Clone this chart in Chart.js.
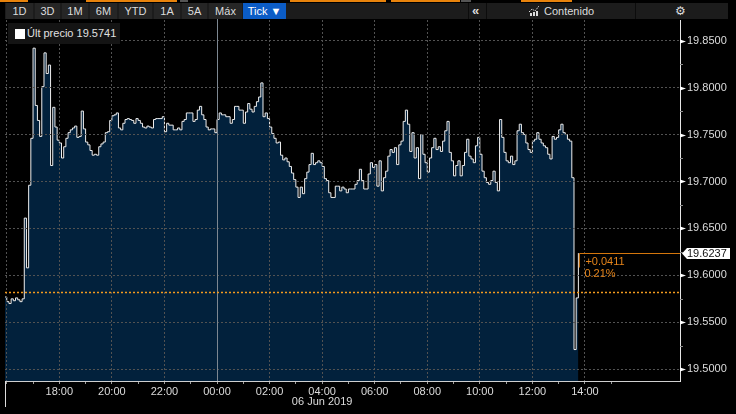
<!DOCTYPE html>
<html>
<head>
<meta charset="utf-8">
<script src="https://cdn.jsdelivr.net/npm/chart.js@4.4.0/dist/chart.umd.min.js"></script>
<style>
  html, body { margin: 0; padding: 0; background: #000; }
  #wrap { position: relative; width: 736px; height: 414px; overflow: hidden; font-family: "Liberation Sans", Arial, sans-serif; }
  canvas { position: absolute; left: 0; top: 0; }
  .strip { position: absolute; top: 0; height: 2px; background: #e8830c; }
  #bar { position: absolute; left: 5px; top: 3px; width: 723px; height: 16px; background: #1c1c1c; }
  .btn { position: absolute; top: 3px; height: 16px; line-height: 16px; background: #262626; color: #dcdcdc; font-size: 11px; text-align: center; }
  .btn.on { background: #0b5cc6; color: #fff; }
  .sep { position: absolute; top: 3px; width: 1px; height: 16px; background: #0c0c0c; }
  .tool { position: absolute; top: 3px; height: 16px; line-height: 16px; color: #dcdcdc; font-size: 11px; }
  #legend { position: absolute; left: 8px; top: 23px; width: 112px; height: 21px; background: #141414; }
  #legend .sq { position: absolute; left: 7px; top: 6px; width: 10px; height: 10px; background: #fff; }
  #legend .txt { position: absolute; left: 19px; top: 4px; color: #e0e0e0; font-size: 11px; white-space: nowrap; }
</style>
</head>
<body>
<div id="wrap">
  <canvas id="chart" width="736" height="414"></canvas>

  <div class="strip" style="left:0;width:28px"></div>
  <div class="strip" style="left:86px;width:91px"></div>
  <div class="strip" style="left:180px;width:8px;background:#555"></div>
  <div class="strip" style="left:290px;width:96px"></div>
  <div class="strip" style="left:391px;width:69px"></div>
  <div class="strip" style="left:461px;width:10px;background:#555"></div>
  <div class="strip" style="left:521px;width:51px"></div>

  <div id="bar"></div>
  <div class="btn" style="left:6px;width:27px">1D</div>
  <div class="btn" style="left:35px;width:25px">3D</div>
  <div class="btn" style="left:62px;width:26px">1M</div>
  <div class="btn" style="left:90px;width:27px">6M</div>
  <div class="btn" style="left:119px;width:33px">YTD</div>
  <div class="btn" style="left:154px;width:26px">1A</div>
  <div class="btn" style="left:182px;width:25px">5A</div>
  <div class="btn" style="left:209px;width:33px">Máx</div>
  <div class="btn on" style="left:243px;width:43px">Tick ▼</div>
  <div class="sep" style="left:468px"></div>
  <div class="sep" style="left:486px"></div>
  <div class="sep" style="left:635px"></div>
  <div class="tool" style="left:472px;font-size:13px;font-weight:bold">«</div>
  <svg style="position:absolute;left:529px;top:6px" width="10" height="10" viewBox="0 0 10 10">
    <polyline points="0,6 3,3 6,5 10,0" fill="none" stroke="#dcdcdc" stroke-width="1" stroke-dasharray="1.5,1"/>
    <rect x="1" y="7" width="2" height="3" fill="#dcdcdc"/>
    <rect x="4" y="6" width="2" height="4" fill="#dcdcdc"/>
    <rect x="7" y="5" width="2" height="5" fill="#dcdcdc"/>
  </svg>
  <div class="tool" style="left:544px">Contenido</div>
  <div class="tool" style="left:675px;font-family:'DejaVu Sans';font-size:12px">⚙</div>

  <div id="legend"><div class="sq"></div><div class="txt">Últ precio <span id="lastq"></span></div></div>
</div>

<script>
// USD/MXN ticks, 5 Jun 2019 15:55 -> 6 Jun 2019 13:45, sampled every 5 minutes
// x values are minutes relative to 00:00 on 6 Jun
const startMinute = -485;
const stepMinutes = 5;
const prices = [
  19.577, 19.572, 19.570, 19.575, 19.573, 19.576, 19.574, 19.572, 19.575, 19.661,
  19.608, 19.696, 19.746, 19.842, 19.781, 19.765, 19.748, 19.801, 19.837, 19.815,
  19.824, 19.717, 19.779, 19.758, 19.744, 19.741, 19.725, 19.737, 19.746, 19.752,
  19.755, 19.757, 19.759, 19.747, 19.748, 19.775, 19.756, 19.742, 19.739, 19.733,
  19.728, 19.729, 19.728, 19.737, 19.740, 19.742, 19.752, 19.753, 19.765, 19.770,
  19.771, 19.773, 19.757, 19.755, 19.762, 19.766, 19.767, 19.766, 19.765, 19.762,
  19.767, 19.765, 19.762, 19.758, 19.757, 19.759, 19.758, 19.757, 19.766, 19.767,
  19.767, 19.767, 19.769, 19.753, 19.762, 19.760, 19.760, 19.755, 19.755, 19.757,
  19.755, 19.764, 19.766, 19.773, 19.773, 19.773, 19.764, 19.766, 19.776, 19.780,
  19.771, 19.766, 19.758, 19.755, 19.756, 19.756, 19.752, 19.766, 19.773, 19.771,
  19.771, 19.769, 19.769, 19.762, 19.766, 19.780, 19.780, 19.776, 19.776, 19.762,
  19.774, 19.783, 19.777, 19.774, 19.780, 19.785, 19.790, 19.805, 19.769, 19.773,
  19.767, 19.758, 19.751, 19.746, 19.741, 19.742, 19.728, 19.723, 19.725, 19.721,
  19.716, 19.709, 19.702, 19.694, 19.683, 19.694, 19.687, 19.703, 19.710, 19.718,
  19.730, 19.718, 19.720, 19.722, 19.720, 19.716, 19.703, 19.701, 19.688, 19.683,
  19.683, 19.695, 19.695, 19.690, 19.694, 19.692, 19.688, 19.692, 19.692, 19.692,
  19.697, 19.701, 19.713, 19.701, 19.692, 19.692, 19.708, 19.720, 19.715, 19.718,
  19.695, 19.722, 19.690, 19.704, 19.711, 19.727, 19.734, 19.731, 19.736, 19.718,
  19.739, 19.743, 19.764, 19.776, 19.761, 19.732, 19.752, 19.725, 19.736, 19.703,
  19.750, 19.729, 19.720, 19.710, 19.725, 19.736, 19.746, 19.734, 19.737, 19.732,
  19.743, 19.754, 19.764, 19.731, 19.722, 19.706, 19.717, 19.722, 19.706, 19.717,
  19.731, 19.745, 19.727, 19.724, 19.720, 19.738, 19.747, 19.729, 19.711, 19.704,
  19.699, 19.697, 19.701, 19.711, 19.699, 19.690, 19.766, 19.747, 19.731, 19.722,
  19.720, 19.727, 19.718, 19.722, 19.754, 19.761, 19.752, 19.750, 19.741, 19.734,
  19.731, 19.743, 19.745, 19.752, 19.745, 19.741, 19.738, 19.736, 19.729, 19.724,
  19.748, 19.745, 19.747, 19.755, 19.761, 19.752, 19.750, 19.745, 19.743, 19.704,
  19.521, 19.576, 19.6237
];
const prevClose = 19.5826;
const lastQuote = 19.5741;
const lastPrice = prices[prices.length - 1];

document.getElementById('lastq').textContent = lastQuote.toFixed(4);

const isMajorY = v => Math.round(v * 1000) % 50 === 0;
const hourLabel = v => {
  const h = ((v / 60) % 24 + 24) % 24;
  return String(Math.round(h)).padStart(2, '0') + ':00';
};
// labelled range of the time axis: 18:00 (5 Jun) to 14:00 (6 Jun)
const labelFrom = -360, labelTo = 840;

const overlay = {
  id: 'overlay',
  afterDraw(chart) {
    const { ctx, chartArea: a, scales: { x, y } } = chart;
    ctx.save();

    // day change line at midnight
    const xm = Math.round(x.getPixelForValue(0)) + 0.5;
    ctx.strokeStyle = '#7d8791';
    ctx.lineWidth = 1;
    ctx.beginPath(); ctx.moveTo(xm, a.top - 2); ctx.lineTo(xm, a.bottom); ctx.stroke();

    // previous close
    const yc = Math.round(y.getPixelForValue(prevClose)) + 0.5;
    ctx.strokeStyle = '#f39a1e';
    ctx.lineWidth = 1.5;
    ctx.setLineDash([2, 2]);
    ctx.beginPath(); ctx.moveTo(a.left, yc); ctx.lineTo(a.right, yc); ctx.stroke();
    ctx.setLineDash([]);

    // last price line + tag
    const meta = chart.getDatasetMeta(0);
    const lastPt = meta.data[meta.data.length - 1];
    const yl = Math.round(y.getPixelForValue(lastPrice)) + 0.5;
    ctx.strokeStyle = '#d4760c';
    ctx.lineWidth = 1;
    ctx.beginPath(); ctx.moveTo(lastPt.x + 1, yl + 14); ctx.lineTo(lastPt.x + 1, yl); ctx.lineTo(a.right, yl); ctx.stroke();

    ctx.fillStyle = '#ffffff';
    ctx.beginPath();
    ctx.moveTo(a.right + 2, yl);
    ctx.lineTo(a.right + 7, yl - 5.5);
    ctx.lineTo(730, yl - 5.5);
    ctx.lineTo(730, yl + 5.5);
    ctx.lineTo(a.right + 7, yl + 5.5);
    ctx.closePath();
    ctx.fill();
    ctx.fillStyle = '#111';
    ctx.font = '11px "Liberation Sans"';
    ctx.textBaseline = 'middle';
    ctx.textAlign = 'left';
    ctx.fillText(lastPrice.toFixed(4), a.right + 7, yl + 0.5);

    // change text
    const chg = lastPrice - prevClose;
    ctx.fillStyle = '#e5841a';
    ctx.fillText('+' + chg.toFixed(4), lastPt.x + 7, yl + 8);
    ctx.fillText((chg / prevClose * 100).toFixed(2) + '%', lastPt.x + 6, yl + 20);

    // y axis markers
    y.ticks.forEach(t => {
      const py = Math.round(y.getPixelForValue(t.value)) + 0.5;
      if (isMajorY(t.value)) {
        ctx.fillStyle = '#ffffff';
        ctx.beginPath();
        ctx.moveTo(a.right, py - 2);
        ctx.lineTo(a.right + 6, py);
        ctx.lineTo(a.right, py + 2);
        ctx.closePath();
        ctx.fill();
      } else {
        ctx.strokeStyle = '#8a8a8a';
        ctx.beginPath(); ctx.moveTo(a.right, py); ctx.lineTo(a.right + 3, py); ctx.stroke();
      }
    });

    // left edge tick and date
    ctx.strokeStyle = '#dddddd';
    ctx.beginPath(); ctx.moveTo(a.left + 0.5, a.bottom); ctx.lineTo(a.left + 0.5, 407); ctx.stroke();
    ctx.fillStyle = '#dcdcdc';
    ctx.textAlign = 'center';
    ctx.fillText('06 Jun 2019', x.getPixelForValue(240), 402);

    ctx.restore();
  }
};

new Chart(document.getElementById('chart'), {
  type: 'line',
  data: {
    datasets: [{
      data: prices.map((p, i) => ({ x: startMinute + i * stepMinutes, y: p })),
      stepped: true,
      borderColor: '#eeeeee',
      borderWidth: 1,
      backgroundColor: '#02213c',
      fill: 'start',
      pointRadius: 0
    }]
  },
  options: {
    responsive: false,
    animation: false,
    layout: { padding: { left: 5, top: 20, right: 0, bottom: 0 } },
    plugins: { legend: { display: false }, tooltip: { enabled: false } },
    font: { family: 'Liberation Sans', size: 11 },
    scales: {
      x: {
        type: 'linear',
        min: -484,
        max: 1057,
        afterFit: s => { s.height = 33; },
        grid: {
          z: 1,
          color: c => (c.tick && c.tick.value % 120 === 0 && c.tick.value <= labelTo) ? '#525252' : 'transparent',
          tickColor: c => (c.tick && c.tick.value <= labelTo + 60) ? '#a0a0a0' : 'transparent',
          tickLength: 3
        },
        border: { display: true, color: '#cfcfcf', dash: [2, 2], z: 2 },
        ticks: {
          stepSize: 60,
          includeBounds: false,
          autoSkip: false,
          maxRotation: 0,
          maxTicksLimit: 100,
          padding: 1,
          color: '#dcdcdc',
          font: { family: 'Liberation Sans', size: 11 },
          callback: v => (v % 120 === 0 && v >= labelFrom && v <= labelTo) ? hourLabel(v) : ''
        }
      },
      y: {
        position: 'right',
        min: 19.4875,
        max: 19.872,
        afterFit: s => { s.width = 56; },
        grid: {
          z: 1,
          drawTicks: false,
          color: c => (c.tick && isMajorY(c.tick.value)) ? '#525252' : 'transparent'
        },
        border: { display: true, color: '#e6e6e6', dash: [2, 2], z: 2 },
        ticks: {
          stepSize: 0.025,
          includeBounds: false,
          autoSkip: false,
          maxTicksLimit: 100,
          padding: 7,
          color: '#dcdcdc',
          font: { family: 'Liberation Sans', size: 11 },
          callback: v => isMajorY(v) ? v.toFixed(4) : ''
        }
      }
    }
  },
  plugins: [overlay]
});
</script>
</body>
</html>
